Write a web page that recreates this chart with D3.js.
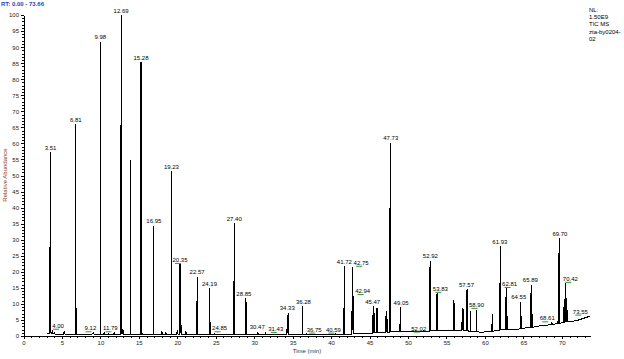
<!DOCTYPE html>
<html><head><meta charset="utf-8">
<script src="https://cdn.jsdelivr.net/npm/d3@7"></script>
<style>
html,body{margin:0;padding:0;background:#fff;}
svg{display:block;font-family:"Liberation Sans",Arial,sans-serif;}
</style></head>
<body><svg id="c" width="624" height="359"></svg>
<script>
// Chromatogram trace vertices: [retention time (min), relative abundance (%)]
const trace = [
[3.0,0.6],[3.38,0.8],[3.40,27.8],[3.42,1.5],[3.49,3],[3.51,57.3],[3.53,1.2],
[3.7,0.8],[3.75,1.8],[3.8,0.9],[4.0,0.7],[4.05,1.3],[4.1,0.6],
[5.2,0.6],[5.3,1.3],[5.4,0.5],
[6.79,0.5],[6.81,66.0],[6.83,0.5],
[8.8,0.5],[9.05,0.8],[9.12,1.0],[9.2,0.5],
[9.96,0.5],[9.98,91.7],[10.0,0.5],
[10.4,0.5],[10.5,0.9],[10.6,0.4],[11.0,0.5],[11.1,0.8],[11.2,0.4],
[11.7,0.5],[11.79,1.0],[11.9,0.4],
[12.58,0.5],[12.60,65.6],[12.63,2],[12.67,2],[12.69,100],[12.71,1.0],[12.85,0.8],[12.92,2.2],[13.0,0.5],
[13.93,0.5],[13.95,54.8],[13.97,0.5],
[15.26,0.5],[15.28,85.3],[15.30,0.5],[15.45,0.5],[15.5,1.0],[15.55,0.4],
[16.93,0.4],[16.95,34.3],[16.97,0.4],
[17.9,0.4],[18.0,1.5],[18.1,0.4],[18.4,0.4],[18.5,1.0],[18.6,0.4],
[19.21,0.4],[19.23,51.4],[19.25,0.4],
[19.9,0.4],[20.0,2.0],[20.1,0.4],
[20.33,0.4],[20.35,22.3],[20.4,1],[20.45,8.4],[20.5,0.4],
[21.0,0.4],[21.1,1.5],[21.2,0.4],
[22.55,0.4],[22.57,18.5],[22.6,1],[22.63,11.2],[22.66,0.4],
[24.17,0.4],[24.19,14.8],[24.22,1],[24.27,4.5],[24.3,0.4],
[24.8,0.4],[24.85,0.9],[24.9,0.4],
[27.25,0.4],[27.3,4.5],[27.35,1],[27.40,35.1],[27.42,0.4],
[28.91,0.4],[28.93,11.7],[28.95,0.4],
[30.4,0.4],[30.47,1.3],[30.55,0.4],
[31.4,0.4],[31.45,0.8],[31.5,0.4],
[34.25,0.4],[34.3,6.5],[34.35,1],[34.4,7.2],[34.42,0.4],
[36.26,0.4],[36.28,9.3],[36.30,0.4],
[36.7,0.4],[36.75,0.9],[36.8,0.4],
[40.5,0.4],[40.59,0.8],[40.65,0.4],
[41.0,0.5],[41.55,0.5],[41.6,5.3],[41.65,1],[41.72,21.8],[41.74,0.5],
[42.6,0.6],[42.65,4.5],[42.7,1],[42.75,21.4],[42.82,2],[42.94,12.6],[42.97,0.8],
[43.5,0.8],[44.5,0.9],
[45.4,0.9],[45.47,9.3],[45.52,1],[45.6,7.3],[45.65,1.0],
[45.85,1.0],[45.9,8.7],[45.95,1.0],[46.0,8.7],[46.05,1.1],
[46.5,1.1],[47.1,1.2],[47.15,7.9],[47.2,1.2],[47.25,7.5],[47.3,1.2],
[47.55,1.2],[47.62,40.0],[47.66,2],[47.71,2],[47.73,60.2],[47.75,1.3],
[48.9,1.3],[48.95,3.7],[49.0,1.5],[49.05,8.9],[49.07,1.3],
[50.0,1.3],[51.0,1.3],[51.95,1.3],[52.02,1.7],[52.1,1.4],
[52.8,1.5],[52.85,21.6],[52.88,2],[52.92,23.4],[52.95,1.6],
[53.65,1.6],[53.7,13.0],[53.75,2],[53.83,13.3],[53.86,1.7],
[54.5,1.8],[55.5,1.8],
[55.85,1.8],[55.9,11.2],[55.95,2],[56.0,10.4],[56.03,1.7],
[56.5,1.6],[57.0,1.6],[57.05,8.8],[57.1,2],[57.15,8.5],[57.18,1.6],
[57.65,1.6],[57.67,14.5],[57.69,1.6],
[58.08,1.5],[58.1,7.9],[58.12,1.5],
[58.88,1.4],[58.9,8.1],[58.92,1.3],
[59.5,1.2],[60.5,1.3],
[60.85,1.3],[60.9,3.7],[60.95,1.4],[61.0,6.8],[61.03,1.5],
[61.5,1.7],[61.88,1.8],[61.92,16.4],[61.95,2],[61.99,28.0],[62.01,1.9],
[62.7,1.9],[62.75,14.8],[62.78,2],[62.85,13.1],[62.88,2.0],
[63.5,2.1],[64.63,2.2],[64.65,10.7],[64.7,2.2],[64.75,6.2],[64.78,2.3],
[65.3,2.5],[65.95,2.6],[66.0,15.9],[66.05,2.6],[66.1,15.9],[66.13,2.7],
[67.0,3.1],[68.0,3.4],[68.6,3.5],[68.7,4.1],[68.8,3.6],
[69.2,3.8],[69.5,3.9],[69.55,25.8],[69.6,4],[69.66,4],[69.68,30.4],[69.70,4.0],
[70.2,4.1],[70.25,8.9],[70.3,4.2],[70.4,4.2],[70.42,16.4],[70.48,4.3],[70.55,11.7],[70.6,4.3],[70.7,8.1],[70.8,4.4],
[71.5,4.6],[72.2,5.0],[72.8,5.5],[73.2,5.8],[73.66,6.2]
];

// Peak labels: text, time where the label sits (min), abundance it sits above, offset flag
const peakText = ["3.51","4.00","6.81","9.12","9.98","11.79","12.69","15.28","16.95","19.23","20.35","22.57","24.19","24.85","27.40","28.85","30.47","31.43","34.33","36.28","36.75","40.59","41.72","42.75","42.94","45.47","47.73","49.05","52.02","52.92","53.83","57.57","58.90","61.93","62.81","64.55","65.89","68.61","69.70","70.42","73.55"];
const peakAt   = [3.51,4.5,6.81,8.7,9.98,11.3,12.69,15.28,16.95,19.23,20.35,22.57,24.19,25.5,27.40,28.65,30.4,32.8,34.3,36.4,37.8,40.3,41.72,43.9,44.1,45.4,47.75,49.1,51.4,52.9,54.2,57.6,58.9,61.94,63.2,64.4,65.9,68.1,69.75,71.1,72.4];
const peakTop  = [57.3,1.8,66.0,1.0,91.7,1.0,100,85.3,34.3,51.4,22.3,18.5,14.8,1.0,35.1,11.7,1.3,0.8,7.2,9.3,0.6,0.6,21.8,21.4,12.6,9.3,60.2,8.9,0.9,23.4,13.3,14.5,8.3,28.0,14.8,10.7,15.9,4.1,30.4,16.4,6.2];
const peakOffset=[0,1,0,1,0,1,0,0,0,0,1,0,0,1,0,0,0,1,0,0,1,1,0,1,1,0,0,0,1,0,1,0,1,0,1,0,0,1,0,1,1];

const yTicks = d3.range(0, 101, 5);
const xTicks = d3.range(0, 71, 5);
const infoLines = ["NL:", "1.50E9", "TIC  MS", "zta-by0204-", "02"];
const rangeText = "RT: 0.00 - 73.66";

const svg = d3.select("#c");
const x = d3.scaleLinear().domain([0, 73.66]).range([23.5, 590]);
const y = d3.scaleLinear().domain([0, 100]).range([336, 15]);

// Axes
const yMinor = d3.axisLeft(y).tickValues(d3.range(0, 101, 1)).tickSize(1.5).tickSizeOuter(0).tickFormat("");
const yMajor = d3.axisLeft(y).tickValues(yTicks).tickSize(3).tickSizeOuter(0).tickPadding(1.5);
const xMinor = d3.axisBottom(x).tickValues(d3.range(0, 74, 1)).tickSize(1.5).tickSizeOuter(0).tickFormat("");
const xMajor = d3.axisBottom(x).tickValues(xTicks).tickSize(3).tickSizeOuter(0).tickPadding(2);

function styleAxis(g){
  g.selectAll("path,line").attr("stroke","#000").attr("stroke-width",1).attr("shape-rendering","crispEdges");
  g.selectAll("text").attr("font-size",6).attr("fill","#222").attr("font-family","Liberation Sans, Arial, sans-serif");
}
svg.append("g").attr("transform","translate(23.5,0)").call(yMinor).call(styleAxis);
svg.append("g").attr("transform","translate(23.5,0)").call(yMajor).call(styleAxis);
svg.append("g").attr("transform","translate(0,336)").call(xMinor).call(styleAxis);
svg.append("g").attr("transform","translate(0,336)").call(xMajor).call(styleAxis);

// Trace
const line = d3.line().x(d => x(d[0])).y(d => y(d[1]));
svg.append("path").datum(trace).attr("d", line)
  .attr("fill","none").attr("stroke","#000").attr("stroke-width",1)
  .attr("shape-rendering","crispEdges");

// Peak labels
const labels = svg.append("g");
peakText.forEach((t, i) => {
  const cx = x(peakAt[i]), by = y(peakTop[i]) - 2.5;
  labels.append("text").attr("x", cx).attr("y", by).attr("text-anchor","middle")
    .attr("font-size",6).attr("fill","#000").text(t);
  if (peakOffset[i]) {
    labels.append("line").attr("x1", cx - 5).attr("x2", cx + 1)
      .attr("y1", by + 1.5).attr("y2", by + 1.5)
      .attr("stroke","#2e9a2e").attr("stroke-width",1);
  }
});

// Texts
svg.append("text").attr("x",1).attr("y",6).attr("font-size",6).attr("font-weight","bold")
  .attr("fill","#2a3fb8").text(rangeText);
svg.append("text").attr("transform","translate(7,175) rotate(-90)").attr("text-anchor","middle")
  .attr("font-size",6).attr("fill","#8a3a14").text("Relative Abundance");
svg.append("text").attr("x",307).attr("y",353).attr("text-anchor","middle")
  .attr("font-size",6).attr("fill","#333").text("Time (min)");
const infoY = [11.7, 18.5, 26, 34.3, 41];
infoLines.forEach((t,i) => {
  svg.append("text").attr("x",589).attr("y",infoY[i]).attr("font-size",6)
    .attr("fill","#000").text(t);
});
</script></body></html>
